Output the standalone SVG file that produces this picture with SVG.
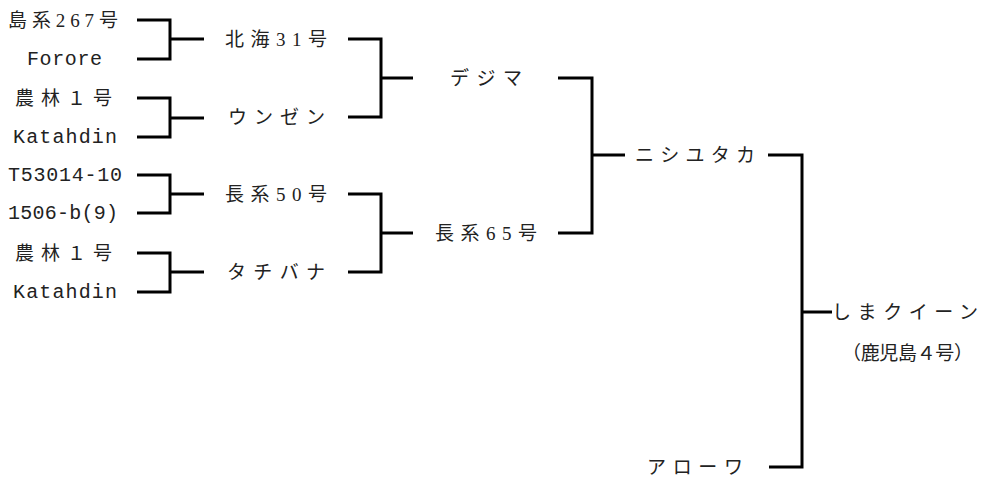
<svg xmlns="http://www.w3.org/2000/svg" width="982" height="478" viewBox="0 0 982 478">
<style>
.t{font-family:"Liberation Serif","Noto Sans CJK JP",serif;font-size:19px;fill:#222;dominant-baseline:central}
.m{font-family:"Liberation Mono","Noto Sans CJK JP",monospace;font-size:20px;fill:#222;dominant-baseline:central}
.c{fill:none;stroke:#000;stroke-width:3;stroke-linecap:butt;stroke-linejoin:miter}
</style>
<rect width="982" height="478" fill="#fff"/>
<g id="connectors">
<path class="c" d="M137 20H170V59H137M170 39H204"/>
<path class="c" d="M137 98H170V137H137M170 118H204"/>
<path class="c" d="M137 175H170V213H137M170 194H204"/>
<path class="c" d="M137 253H170V292H137M170 272H204"/>
<path class="c" d="M348 39H381V117H348M381 78H413"/>
<path class="c" d="M348 194H381V272H348M381 233H413"/>
<path class="c" d="M558 78H592V233H558M592 155H625"/>
<path class="c" d="M768 155H802V467H769M802 312H832"/>
</g>
<g id="n-shimakei267"><text class="t" x="8" y="20" textLength="110" lengthAdjust="spacing">島系267号</text></g>
<g id="n-forore"><text class="m" x="27" y="59" textLength="75" lengthAdjust="spacing">Forore</text></g>
<g id="n-norin1-a"><text class="t" x="15" y="98" textLength="97" lengthAdjust="spacing">農林１号</text></g>
<g id="n-katahdin-a"><text class="m" x="13" y="137" textLength="104" lengthAdjust="spacing">Katahdin</text></g>
<g id="n-t53014"><text class="m" x="8" y="175" textLength="114" lengthAdjust="spacing">T53014-10</text></g>
<g id="n-1506b"><text class="m" x="8" y="213" textLength="110" lengthAdjust="spacing">1506-b(9)</text></g>
<g id="n-norin1-b"><text class="t" x="15" y="253" textLength="97" lengthAdjust="spacing">農林１号</text></g>
<g id="n-katahdin-b"><text class="m" x="13" y="292" textLength="104" lengthAdjust="spacing">Katahdin</text></g>
<g id="n-hokkai31"><text class="t" x="225" y="39" textLength="102" lengthAdjust="spacing">北海31号</text></g>
<g id="n-unzen"><text class="t" x="228" y="117" textLength="97" lengthAdjust="spacing">ウンゼン</text></g>
<g id="n-chokei50"><text class="t" x="225" y="194" textLength="102" lengthAdjust="spacing">長系50号</text></g>
<g id="n-tachibana"><text class="t" x="227" y="272" textLength="98" lengthAdjust="spacing">タチバナ</text></g>
<g id="n-dejima"><text class="t" x="450" y="78" textLength="72" lengthAdjust="spacing">デジマ</text></g>
<g id="n-chokei65"><text class="t" x="435" y="233" textLength="102" lengthAdjust="spacing">長系65号</text></g>
<g id="n-nishiyutaka"><text class="t" x="635" y="155" textLength="120" lengthAdjust="spacing">ニシユタカ</text></g>
<g id="n-shimaqueen"><text class="t" x="832" y="312" textLength="146" lengthAdjust="spacing">しまクイーン</text><text class="t" x="842" y="353" font-size="17" textLength="131" lengthAdjust="spacing">（鹿児島４号）</text></g>
<g id="n-arowa"><text class="t" x="647" y="467" textLength="96" lengthAdjust="spacing">アローワ</text></g>
</svg>
